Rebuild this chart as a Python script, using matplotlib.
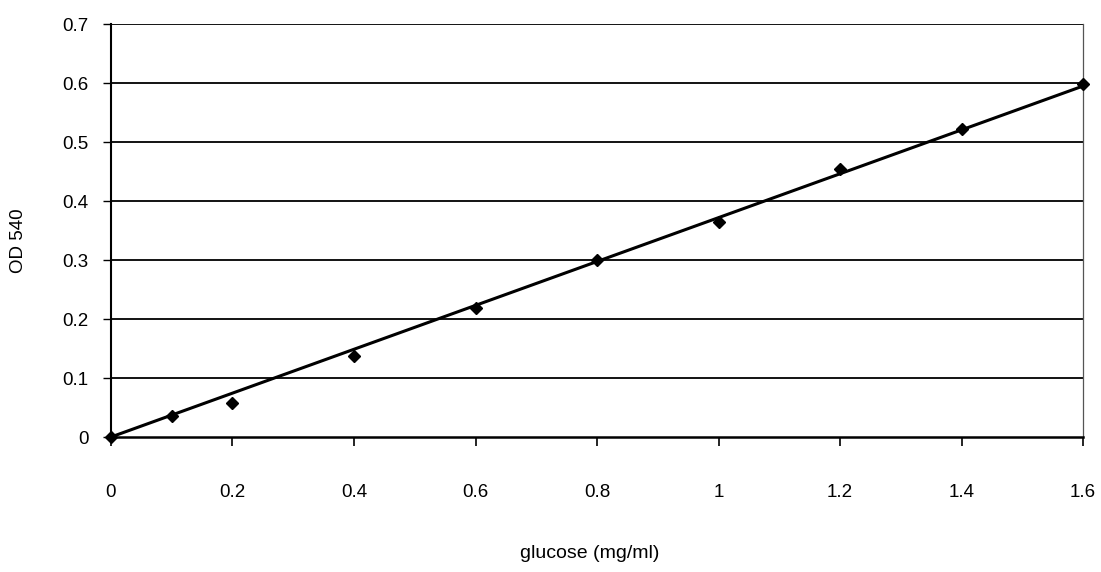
import numpy as np
import matplotlib
matplotlib.use("Agg")
import matplotlib.pyplot as plt

plt.rcParams['font.family'] = ['Liberation Sans', 'DejaVu Sans']

glucose = [0, 0.1, 0.2, 0.4, 0.6, 0.8, 1.0, 1.2, 1.4, 1.6]
od540 = [0.0, 0.036, 0.058, 0.137, 0.219, 0.300, 0.364, 0.454, 0.522, 0.598]
xticks = [0, 0.2, 0.4, 0.6, 0.8, 1, 1.2, 1.4, 1.6]
xticklabels = ['0', '0.2', '0.4', '0.6', '0.8', '1', '1.2', '1.4', '1.6']
yticks = [0, 0.1, 0.2, 0.3, 0.4, 0.5, 0.6, 0.7]
yticklabels = ['0', '0.1', '0.2', '0.3', '0.4', '0.5', '0.6', '0.7']

fig = plt.figure(figsize=(11.01, 5.72), dpi=100)
ax = fig.add_axes([0.1008, 0.236, 0.8829, 0.722])

x = np.array(glucose)
y = np.array(od540)
slope = np.sum(x * y) / np.sum(x * x)
xl = np.array([0, 1.6])
ax.plot(xl, slope * xl, color='black', lw=2.2, zorder=3, clip_on=False)
ax.plot(x, y, linestyle='none', marker='D', markersize=6, color='black', zorder=4, clip_on=False)

ax.set_xlim(0, 1.6)
ax.set_ylim(0, 0.7)
ax.set_xticks(xticks)
ax.set_xticklabels(xticklabels)
ax.set_yticks(yticks)
ax.set_yticklabels(yticklabels)
for yy in yticks[1:]:
    ax.axhline(yy, color='black', lw=1.3, zorder=1)

ax.spines['top'].set_visible(False)
ax.spines['right'].set_color('#555555')
ax.spines['right'].set_linewidth(0.9)
ax.spines['left'].set_linewidth(1.5)
ax.spines['bottom'].set_linewidth(1.8)

ax.tick_params(axis='x', direction='out', length=6.5, width=1.2, pad=27, labelsize=13.5)
ax.tick_params(axis='y', direction='out', length=6, width=1.0, pad=10, labelsize=13.5)

fig.text(0.536, 0.033, 'glucose (mg/ml)', ha='center', va='center', fontsize=14)
fig.text(0.017, 0.58, 'OD 540', ha='center', va='center', rotation=90, fontsize=13.5)

fig.savefig('out.png', dpi=100, facecolor='white')
